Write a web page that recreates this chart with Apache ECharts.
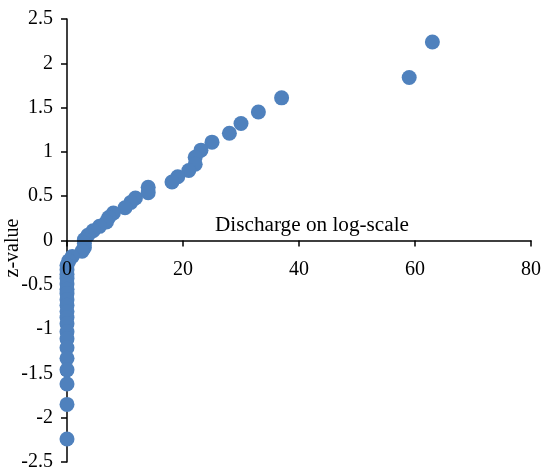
<!DOCTYPE html>
<html>
<head>
<meta charset="utf-8">
<script src="https://cdn.jsdelivr.net/npm/echarts@6/dist/echarts.min.js"></script>
<style>
  html, body { margin: 0; padding: 0; background: #fff; }
  #main { width: 544px; height: 471px; }
</style>
</head>
<body>
<div id="main"></div>
<script>
// discharge (x) and z-value (y)
var discharge = [63, 59, 37, 33, 30, 28, 25, 23.1, 22.1, 22.1, 21, 19.1, 18.1, 14, 14, 11.8, 11, 10, 8, 7.2, 6.8, 5.6, 4.5, 3.6, 3,
                 3, 3, 2.6, 0.9, 0.3, 0, 0, 0, 0, 0, 0, 0, 0, 0, 0, 0, 0, 0, 0, 0, 0, 0, 0, 0, 0];
var zValue = [2.24, 1.84, 1.61, 1.45, 1.32, 1.21, 1.11, 1.02, 0.94, 0.86, 0.79, 0.72, 0.66, 0.6, 0.54, 0.48, 0.43, 0.37, 0.31, 0.26, 0.21, 0.16, 0.11, 0.06, 0.01,
              -0.03, -0.08, -0.12, -0.18, -0.23, -0.28, -0.33, -0.38, -0.43, -0.49, -0.55, -0.6, -0.67, -0.73, -0.8, -0.87, -0.94, -1.03, -1.11, -1.21, -1.33, -1.46, -1.62, -1.85, -2.24];
var xTicks = [0, 20, 40, 60, 80];
var yTicks = [-2.5, 2.5];

var points = [];
for (var i = 0; i < discharge.length; i++) {
    points.push([discharge[i], zValue[i]]);
}

var font = '"Liberation Serif", "Times New Roman", serif';
var gridTop = 19, gridBottom = 9, chartH = 471;
// x axis sits where z = 0 (middle of the symmetric y range)
var zeroOffset = -(chartH - gridTop - gridBottom) / 2;

var myChart = echarts.init(document.getElementById('main'));
myChart.setOption({
    animation: false,
    grid: { left: 67, right: 13, top: gridTop, bottom: gridBottom, containLabel: false, outerBoundsMode: 'none' },
    xAxis: {
        type: 'value',
        z: 3, // labels sit on top of the markers
        position: 'bottom',
        offset: zeroOffset,
        min: xTicks[0],
        max: xTicks[xTicks.length - 1],
        interval: 20,
        splitLine: { show: false },
        axisLine: { onZero: false, lineStyle: { color: '#000', width: 1.5 } },
        axisTick: { show: true, inside: false, length: 6, lineStyle: { color: '#000', width: 1.5 } },
        axisLabel: { margin: 19, color: '#000', fontSize: 20, fontFamily: font }
    },
    yAxis: {
        type: 'value',
        min: yTicks[0],
        max: yTicks[1],
        interval: 0.5,
        splitLine: { show: false },
        axisLine: { onZero: false, lineStyle: { color: '#000', width: 1.5 } },
        axisTick: { show: true, length: 6, lineStyle: { color: '#000', width: 1.5 } },
        axisLabel: { margin: 14, color: '#000', fontSize: 20, fontFamily: font }
    },
    graphic: [{
        type: 'text',
        x: 312, y: 226, scaleX: 1.06,
        style: { text: 'Discharge on log-scale', fill: '#000', font: '20px ' + font,
                 textAlign: 'center', textVerticalAlign: 'middle' }
    }, {
        type: 'text',
        x: 13, y: 248,
        rotation: Math.PI / 2,
        style: { text: 'z-value', fill: '#000', font: '20px ' + font,
                 textAlign: 'center', textVerticalAlign: 'middle' }
    }],
    series: [{
        type: 'scatter',
        symbolSize: 15,
        itemStyle: { color: '#4F81BD', opacity: 1 },
        data: points
    }]
});
</script>
</body>
</html>
